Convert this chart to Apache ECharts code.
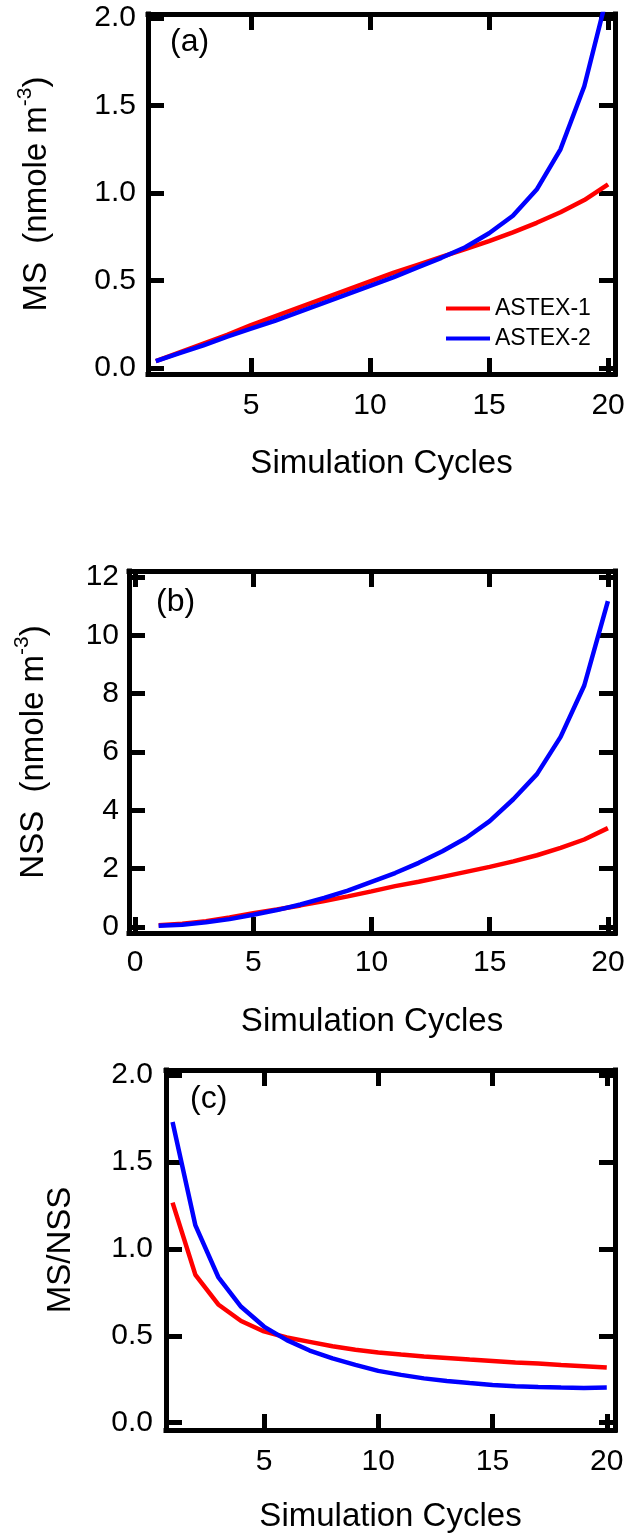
<!DOCTYPE html>
<html>
<head>
<meta charset="utf-8">
<script src="https://cdn.jsdelivr.net/npm/echarts@6/dist/echarts.min.js"></script>
<style>
  html, body { margin: 0; padding: 0; background: #fff; }
  #chart { width: 632px; height: 1537px; }
</style>
</head>
<body>
<div id="chart"></div>
<script>
// Simulation cycle index (x values shared by all three panels)
const cycles = [1, 2, 3, 4, 5, 6, 7, 8, 9, 10, 11, 12, 13, 14, 15, 16, 17, 18, 19, 20];

// (a) MS concentration, nmole m^-3
const msAstex1 = [0.04, 0.09, 0.14, 0.19, 0.245, 0.295, 0.345, 0.395, 0.445, 0.495,
                  0.545, 0.59, 0.635, 0.68, 0.725, 0.775, 0.83, 0.89, 0.96, 1.05];
const msAstex2 = [0.04, 0.085, 0.13, 0.18, 0.225, 0.27, 0.32, 0.37, 0.42, 0.47,
                  0.52, 0.575, 0.63, 0.69, 0.77, 0.87, 1.02, 1.25, 1.61, 2.15];

// (b) NSS concentration, nmole m^-3
const nssAstex1 = [0.06, 0.11, 0.2, 0.33, 0.47, 0.6, 0.74, 0.89, 1.05, 1.22,
                   1.4, 1.55, 1.72, 1.89, 2.06, 2.25, 2.46, 2.71, 3.0, 3.39];
const nssAstex2 = [0.04, 0.08, 0.16, 0.27, 0.42, 0.58, 0.77, 1.0, 1.25, 1.55,
                   1.85, 2.2, 2.6, 3.05, 3.63, 4.38, 5.24, 6.52, 8.28, 11.17];

// (c) MS/NSS ratio
const ratioAstex1 = [1.266, 0.85, 0.68, 0.585, 0.525, 0.49, 0.465, 0.44, 0.42, 0.404,
                     0.392, 0.381, 0.372, 0.363, 0.355, 0.347, 0.34, 0.332, 0.325, 0.317];
const ratioAstex2 = [1.73, 1.135, 0.838, 0.667, 0.553, 0.475, 0.415, 0.37, 0.333, 0.298,
                     0.275, 0.255, 0.24, 0.228, 0.217, 0.21, 0.205, 0.202, 0.2, 0.202];

// Tick positions
const xTicksA = [5, 10, 15, 20];
const yTicksA = [0, 0.5, 1, 1.5, 2];
const xTicksB = [0, 5, 10, 15, 20];
const yTicksB = [0, 2, 4, 6, 8, 10, 12];
const xTicksC = [5, 10, 15, 20];
const yTicksC = [0, 0.5, 1, 1.5, 2];

const seriesNames = ['ASTEX-1', 'ASTEX-2'];
const seriesColors = ['#ff0000', '#0000ff'];

const FONT = "'Liberation Sans', Arial, Helvetica, sans-serif";
const FRAME_W = 5;
const TICK_LEN = 16;

const panels = [
  { grid: { left: 148, top: 14, width: 467, height: 360 },
    xRange: [0.672, 20.29], yRange: [-0.034, 2.023],
    xTicks: xTicksA, yTicks: yTicksA, yFmt: v => v.toFixed(1),
    xMargin: 17, yMargin: 12, xNameGap: 73, yNameGap: 95,
    yName: '{n|MS  (nmole m}{s|-3}{n|)}',
    data: [msAstex1, msAstex2], tag: '(a)', tagPos: [170, 26] },
  { grid: { left: 129, top: 571, width: 486, height: 362 },
    xRange: [-0.254, 20.3], yRange: [-0.206, 12.206],
    xTicks: xTicksB, yTicks: yTicksB, yFmt: v => String(v),
    xMargin: 15, yMargin: 10, xNameGap: 72, yNameGap: 79,
    yName: '{n|NSS  (nmole m}{s|-3}{n|)}',
    data: [nssAstex1, nssAstex2], tag: '(b)', tagPos: [156, 586] },
  { grid: { left: 166, top: 1070, width: 449, height: 360 },
    xRange: [0.713, 20.36], yRange: [-0.042, 2.029],
    xTicks: xTicksC, yTicks: yTicksC, yFmt: v => v.toFixed(1),
    xMargin: 17, yMargin: 13, xNameGap: 70, yNameGap: 89,
    yName: '{n|MS/NSS}',
    data: [ratioAstex1, ratioAstex2], tag: '(c)', tagPos: [190, 1083] }
];

const frameLine = { show: true, onZero: false,
                    lineStyle: { color: '#000', width: FRAME_W, cap: 'square' } };
const tickStyle = (vals) => ({ show: true, inside: true, length: TICK_LEN, customValues: vals,
                               lineStyle: { color: '#000', width: FRAME_W } });

const grids = [], xAxes = [], yAxes = [], series = [], graphics = [];

panels.forEach((p, i) => {
  grids.push(p.grid);
  // bottom axis with labels and title
  xAxes.push({
    type: 'value', gridIndex: i, position: 'bottom', min: p.xRange[0], max: p.xRange[1],
    axisLine: frameLine, axisTick: tickStyle(p.xTicks), splitLine: { show: false },
    axisLabel: { show: true, customValues: p.xTicks, margin: p.xMargin, color: '#000',
                 fontSize: 30, fontFamily: FONT },
    name: 'Simulation Cycles', nameLocation: 'middle', nameGap: p.xNameGap,
    nameTextStyle: { color: '#000', fontSize: 33, fontFamily: FONT }
  });
  // top mirror axis: frame edge and ticks only
  xAxes.push({
    type: 'value', gridIndex: i, position: 'top', min: p.xRange[0], max: p.xRange[1],
    axisLine: frameLine, axisTick: tickStyle(p.xTicks), splitLine: { show: false },
    axisLabel: { show: false }
  });
  // left axis with labels and title
  yAxes.push({
    type: 'value', gridIndex: i, position: 'left', min: p.yRange[0], max: p.yRange[1],
    axisLine: frameLine, axisTick: tickStyle(p.yTicks), splitLine: { show: false },
    axisLabel: { show: true, customValues: p.yTicks, margin: p.yMargin, color: '#000',
                 fontSize: 30, fontFamily: FONT, formatter: p.yFmt },
    name: p.yName, nameLocation: 'middle', nameGap: p.yNameGap,
    nameTextStyle: {
      color: '#000', fontFamily: FONT,
      rich: {
        n: { fontSize: 33, fontFamily: FONT, color: '#000', lineHeight: 38, verticalAlign: 'bottom' },
        s: { fontSize: 21, fontFamily: FONT, color: '#000', lineHeight: 38, verticalAlign: 'top' }
      }
    }
  });
  // right mirror axis
  yAxes.push({
    type: 'value', gridIndex: i, position: 'right', min: p.yRange[0], max: p.yRange[1],
    axisLine: frameLine, axisTick: tickStyle(p.yTicks), splitLine: { show: false },
    axisLabel: { show: false }
  });

  p.data.forEach((vals, k) => {
    series.push({
      type: 'line', name: seriesNames[k], xAxisIndex: i * 2, yAxisIndex: i * 2,
      data: cycles.map((c, j) => [c, vals[j]]),
      showSymbol: false, symbol: 'none', smooth: false, clip: true,
      lineStyle: { color: seriesColors[k], width: 4.5 },
      itemStyle: { color: seriesColors[k] },
      z: 3 + k
    });
  });

  graphics.push({
    type: 'text', left: p.tagPos[0], top: p.tagPos[1],
    style: { text: p.tag, fill: '#000', font: '32px ' + FONT }
  });
});

const chart = echarts.init(document.getElementById('chart'), null, { renderer: 'canvas' });
chart.setOption({
  animation: false,
  backgroundColor: '#fff',
  grid: grids,
  xAxis: xAxes,
  yAxis: yAxes,
  series: series,
  legend: {
    data: seriesNames, orient: 'vertical', left: 446, top: 297, padding: 0,
    itemWidth: 44, itemHeight: 20, itemGap: 7,
    icon: 'path://M0,0 L44,0 L44,4 L0,4 Z',
    textStyle: { color: '#000', fontSize: 23, fontFamily: FONT, lineHeight: 20 },
    selectedMode: false
  },
  graphic: graphics
});
</script>
</body>
</html>
